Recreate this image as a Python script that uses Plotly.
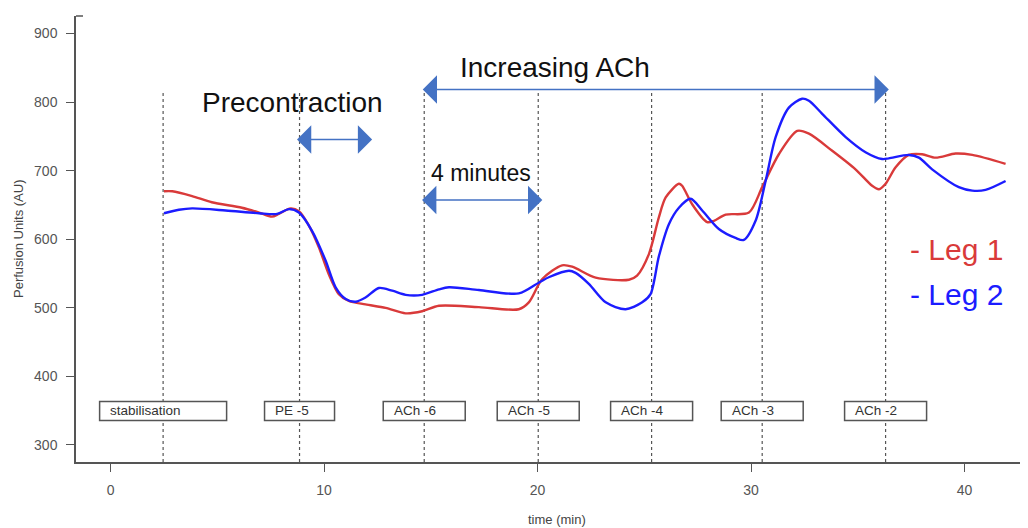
import plotly.graph_objects as go

# ---- data ----
leg1_t = [2.50, 2.89, 3.82, 4.74, 6.15, 6.95, 7.56, 7.88, 8.43, 8.82, 9.29, 9.76, 10.22, 10.69,
          11.16, 11.94, 12.88, 13.82, 14.59, 15.38, 17.25, 19.12, 19.59, 20.22, 21.15, 21.62,
          22.72, 24.28, 24.66, 25.21, 25.68, 26.00, 26.62, 26.77, 27.24, 27.94, 28.26, 28.81,
          29.90, 30.52, 31.30, 32.16, 32.71, 33.80, 34.89, 35.67, 35.99, 36.30, 36.77, 37.39,
          38.01, 38.64, 39.58, 40.36, 41.92]
leg1_v = [670, 670, 663, 654, 646, 639, 633, 637, 645, 641, 620, 588, 549, 520,
          510, 505, 500, 492, 495, 503, 501, 498, 508, 542, 562, 560,
          544, 541, 547, 578, 632, 661, 681, 678, 651, 625, 627, 636,
          639, 676, 724, 758, 754, 729, 702, 678, 673, 681, 705, 723,
          724, 719, 725, 723, 710]

leg2_t = [2.50, 3.20, 3.82, 5.39, 6.95, 7.80, 8.35, 8.82, 9.44, 10.07, 10.54, 11.01, 11.48,
          11.94, 12.57, 13.19, 13.82, 14.59, 15.38, 15.85, 17.25, 19.12, 20.07, 20.55, 21.47,
          21.78, 22.40, 23.19, 24.12, 24.90, 25.29, 25.68, 26.15, 26.62, 27.17, 27.71, 28.49,
          29.27, 29.66, 30.21, 30.68, 31.15, 31.77, 32.39, 32.71, 33.33, 34.43, 35.36, 36.14,
          36.45, 37.39, 37.86, 38.48, 39.73, 40.36, 40.98, 41.92]
leg2_v = [638, 643, 645, 642, 638, 637, 644, 639, 612, 569, 530, 513, 509,
          515, 529, 525, 519, 519, 527, 530, 526, 521, 537, 545, 554,
          551, 535, 508, 498, 508, 520, 575, 622, 646, 659, 642, 615,
          602, 599, 627, 685, 749, 792, 805, 802, 783, 749, 727, 717,
          718, 723, 719, 702, 676, 671, 672, 685]

event_times = [2.46, 8.85, 14.69, 20.03, 25.34, 30.52, 36.30]
event_labels = ["stabilisation", "PE -5", "ACh -6", "ACh -5", "ACh -4", "ACh -3", "ACh -2"]

x_ticks = [0, 10, 20, 30, 40]
y_ticks = [300, 400, 500, 600, 700, 800, 900]

# ---- styling / layout constants ----
OFF = 8  # browser body margin
W, H = 1028 - OFF, 528 - OFF
ML, MR, MT, MB = 76 - OFF, 0, 16 - OFF, 66
XR = [-1.62, 42.97]
YR = [275.2, 925.6]
PW = W - ML - MR
PH = H - MT - MB
ppu = PW / (XR[1] - XR[0])  # px per minute

RED = "#d93a3a"
BLUE = "#1c1cff"
ARROW = "#4472C4"
FONT = "Liberation Sans, Arial, sans-serif"

fig = go.Figure()
fig.add_trace(go.Scatter(x=leg1_t, y=leg1_v, mode="lines", name="Leg 1",
                         line=dict(color=RED, width=2.4, shape="spline", smoothing=0.8)))
fig.add_trace(go.Scatter(x=leg2_t, y=leg2_v, mode="lines", name="Leg 2",
                         line=dict(color=BLUE, width=2.4, shape="spline", smoothing=0.8)))

shapes = []
annotations = []

# dashed event lines
for t in event_times:
    shapes.append(dict(type="line", xref="x", yref="y", x0=t, x1=t, y0=YR[0], y1=816,
                       line=dict(color="#555555", width=1.2, dash="3px,3px"), layer="below"))

# label boxes
box_half_px = {"stabilisation": 63.5, "PE -5": 35}
for t, lab in zip(event_times, event_labels):
    hw = box_half_px.get(lab, 41) / ppu
    x0 = t - hw
    shapes.append(dict(type="rect", xref="x", yref="y", x0=x0, x1=t + hw, y0=335.8, y1=363.5,
                       line=dict(color="#555555", width=1.5), fillcolor="white", layer="above"))
    annotations.append(dict(x=x0 + 8.5 / ppu, y=349.6, xref="x", yref="y", text=lab,
                            showarrow=False, xanchor="left", yanchor="middle",
                            font=dict(family=FONT, size=13.5, color="#333333")))

# corner tick at top of y-axis
shapes.append(dict(type="line", xref="paper", yref="paper", x0=0, x1=7 / PW,
                   y0=1, y1=1, line=dict(color="#555555", width=1.5)))

# double arrows
def double_arrow(xa, xb, y):
    annotations.append(dict(x=xb, y=y, ax=xa, ay=y, xref="x", yref="y", axref="x", ayref="y",
                            text="", showarrow=True, arrowhead=1, startarrowhead=1,
                            arrowside="end+start", arrowsize=3.4, startarrowsize=3.4,
                            arrowwidth=1.4, arrowcolor=ARROW, standoff=0, startstandoff=0))

double_arrow(14.55, 36.45, 818.4)
double_arrow(8.66, 12.25, 745.6)
double_arrow(14.52, 20.22, 657.2)

def text(x, y, s, size, color="#111111"):
    annotations.append(dict(x=x, y=y, xref="x", yref="y", text=s, showarrow=False,
                            xanchor="center", yanchor="middle",
                            font=dict(family=FONT, size=size, color=color)))

text(20.81, 851, "Increasing ACh", 28)
text(8.51, 800, "Precontraction", 28)
text(17.37, 697, "4 minutes", 23)
text(39.62, 585, "- Leg 1", 30, RED)
text(39.62, 519, "- Leg 2", 30, BLUE)

# axis titles (positions given in window pixels)
annotations.append(dict(x=(18 - 76) / PW, y=0.5, xref="paper", yref="paper",
                        text="Perfusion Units (AU)", textangle=-90, showarrow=False,
                        xanchor="center", yanchor="middle",
                        font=dict(family=FONT, size=13, color="#444444")))
annotations.append(dict(x=(557 - 76) / PW, y=-(519 - 462) / PH, xref="paper", yref="paper",
                        text="time (min)", showarrow=False, xanchor="center", yanchor="middle",
                        font=dict(family=FONT, size=13, color="#444444")))

axis_common = dict(showline=True, linecolor="#555555", linewidth=1.5, ticks="outside",
                   ticklen=8, tickwidth=1.2, tickcolor="#555555", showgrid=False,
                   zeroline=False, tickfont=dict(family=FONT, size=14, color="#555555"))

fig.update_layout(
    width=W, height=H,
    margin=dict(l=ML, r=MR, t=MT, b=MB, pad=0),
    paper_bgcolor="white", plot_bgcolor="white",
    showlegend=False,
    xaxis=dict(range=XR, tickvals=x_ticks, ticklabelstandoff=6, automargin=False, **axis_common),
    yaxis=dict(range=YR, tickvals=y_ticks, ticklabelstandoff=6, automargin=False, **axis_common),
    shapes=shapes, annotations=annotations,
)

fig.write_html("out.html")
